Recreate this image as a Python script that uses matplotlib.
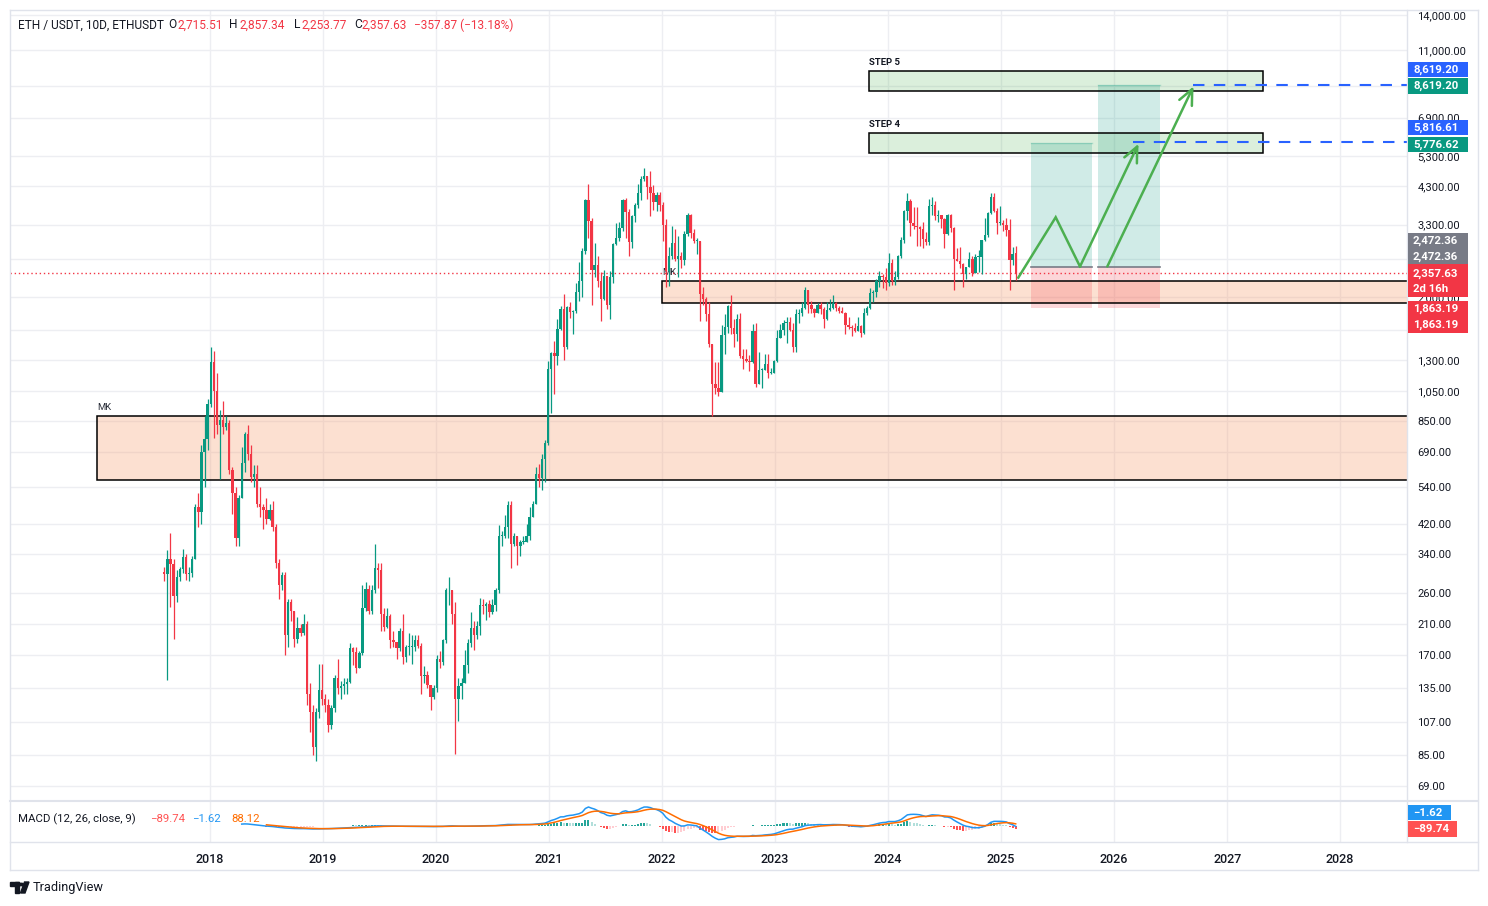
import numpy as np
import pandas as pd
import matplotlib
matplotlib.use("Agg")
import matplotlib.pyplot as plt
from matplotlib.patches import Rectangle, Polygon, Circle
from matplotlib.lines import Line2D
from matplotlib.ticker import FixedLocator, NullLocator

plt.rcParams['font.family'] = ['Roboto', 'DejaVu Sans']

# ---------------- data (10-day candles, ETH/USDT) ----------------
first_candle = "2017-08-08"
candle_days = 10
first_open = 301.0

closes = [
    297, 330, 318, 255, 290, 308, 334, 296, 298, 330,
    470, 455, 690, 755, 960, 1280, 1050, 830, 860, 820,
    840, 610, 520, 380, 500, 640, 780, 680, 580, 590,
    480, 470, 460, 435, 460, 410, 320, 275, 295, 195,
    245, 230, 190, 205, 198, 210, 130, 115, 90, 115,
    133, 125, 120, 105, 118, 145, 135, 137, 139, 141,
    178, 173, 155, 172, 235, 268, 230, 265, 310, 305,
    225, 206, 222, 188, 186, 178, 200, 168, 180, 180,
    180, 188, 181, 147, 148, 138, 127, 135, 165, 162,
    188, 265, 265, 225, 125, 137, 140, 158, 185, 205,
    195, 208, 240, 238, 242, 228, 240, 265, 385, 385,
    410, 478, 365, 385, 360, 370, 370, 385, 440, 480,
    590, 575, 655, 730, 1220, 1360, 1330, 1610, 1850, 1420,
    1870, 1810, 1820, 2080, 2240, 2750, 3900, 3380, 2420, 2500,
    2230, 1980, 2320, 1900, 2300, 2890, 3010, 3230, 3900, 3600,
    2920, 3510, 3790, 4090, 4530, 4620, 4270, 4100, 3850, 4050,
    3770, 3300, 2400, 2660, 2900, 2600, 2650, 2580, 3100, 3520,
    3110, 2950, 2950, 2050, 1970, 1780, 1450, 1100, 1070, 1040,
    1540, 1630, 1880, 1620, 1550, 1720, 1330, 1310, 1290, 1280,
    1580, 1100, 1210, 1210, 1265, 1190, 1190, 1290, 1510, 1600,
    1670, 1690, 1600, 1420, 1780, 1790, 1860, 2100, 1890, 1850,
    1800, 1890, 1850, 1720, 1830, 1860, 1920, 1860, 1825, 1800,
    1650, 1630, 1620, 1580, 1640, 1560, 1790, 1860, 2060, 2080,
    2240, 2310, 2300, 2210, 2530, 2240, 2300, 2660, 2970, 3630,
    3880, 3330, 3280, 3240, 3200, 2990, 2930, 3740, 3780, 3500,
    3520, 3430, 3100, 3530, 3230, 2610, 2570, 2510, 2340, 2460,
    2600, 2370, 2640, 2640, 2960, 3080, 3580, 3990, 3630, 3330,
    3330, 3300, 3180, 2590, 2700, 2357.63,
]
highs = [
    311, 350, 395, 330, 305, 312, 352, 340, 312, 335,
    480, 520, 720, 880, 990, 1420, 1380, 1190, 920, 975,
    880, 860, 620, 540, 510, 710, 790, 830, 720, 630,
    630, 540, 480, 500, 480, 490, 420, 330, 300, 300,
    250, 250, 230, 220, 210, 225, 215, 140, 120, 118,
    160, 160, 130, 125, 120, 148, 165, 142, 145, 145,
    185, 180, 180, 175, 275, 280, 275, 275, 365, 320,
    320, 235, 235, 225, 200, 183, 205, 225, 182, 197,
    195, 195, 195, 185, 157, 152, 135, 138, 170, 175,
    190, 270, 290, 260, 245, 145, 145, 176, 190, 228,
    215, 215, 252, 250, 245, 248, 250, 270, 415, 400,
    445, 490, 490, 395, 385, 375, 385, 420, 470, 490,
    620, 635, 680, 750, 1290, 1375, 1475, 1720, 1880, 2040,
    1880, 1940, 1830, 2200, 2550, 2800, 3950, 4370, 3450, 2900,
    2650, 2380, 2410, 2200, 2400, 2900, 3330, 3370, 3950, 3970,
    3680, 3530, 3820, 4370, 4600, 4870, 4600, 4780, 4350, 4120,
    4120, 3850, 3430, 2820, 3280, 3200, 3050, 2730, 3150, 3580,
    3550, 3200, 3000, 2950, 2150, 2000, 1930, 1450, 1280, 1280,
    1650, 1780, 1900, 2030, 1720, 1780, 1790, 1400, 1400, 1340,
    1660, 1680, 1370, 1230, 1350, 1350, 1230, 1300, 1600, 1660,
    1715, 1740, 1740, 1680, 1850, 1850, 1940, 2140, 2100, 1950,
    1860, 1920, 1930, 1870, 1930, 1970, 2030, 1930, 1880, 1870,
    1810, 1740, 1650, 1680, 1750, 1650, 1860, 1880, 2130, 2100,
    2270, 2400, 2340, 2450, 2720, 2600, 2400, 2680, 3030, 3650,
    4090, 3940, 3730, 3720, 3280, 3350, 3130, 3950, 3980, 3890,
    3660, 3520, 3460, 3560, 3560, 3240, 2800, 2820, 2530, 2470,
    2730, 2660, 2690, 2770, 2970, 3450, 3600, 4100, 4110, 3700,
    3750, 3400, 3450, 3440, 2820, 2857.34,
]
lows = [
    282, 143, 236, 190, 245, 283, 298, 285, 283, 290,
    330, 410, 420, 540, 700, 940, 760, 780, 570, 780,
    800, 590, 450, 360, 360, 500, 600, 650, 560, 540,
    470, 440, 405, 420, 430, 400, 310, 250, 265, 170,
    180, 215, 180, 185, 194, 195, 120, 100, 85, 82,
    110, 120, 115, 100, 102, 115, 130, 125, 130, 130,
    140, 158, 150, 155, 170, 230, 225, 225, 260, 270,
    200, 200, 205, 178, 180, 165, 175, 160, 162, 170,
    160, 175, 178, 130, 140, 135, 116, 125, 132, 155,
    158, 185, 240, 210, 86, 108, 125, 140, 150, 180,
    176, 190, 195, 225, 216, 220, 225, 230, 260, 360,
    380, 380, 310, 360, 315, 335, 365, 370, 375, 440,
    480, 540, 530, 560, 720, 900, 1030, 1250, 1600, 1300,
    1400, 1730, 1550, 1790, 1950, 2000, 2700, 3000, 1900, 2300,
    2150, 1700, 1960, 1850, 1720, 2200, 2870, 2950, 3150, 3000,
    2650, 2800, 3350, 3700, 3900, 4450, 3950, 3500, 3650, 3630,
    3620, 2950, 2150, 2160, 2600, 2570, 2300, 2450, 2500, 3050,
    3000, 2900, 2700, 1700, 1900, 1700, 1420, 880, 1030, 1010,
    1040, 1350, 1560, 1550, 1420, 1480, 1320, 1220, 1280, 1200,
    1270, 1080, 1170, 1070, 1230, 1150, 1180, 1190, 1280, 1510,
    1540, 1460, 1590, 1370, 1370, 1680, 1760, 1850, 1800, 1800,
    1740, 1790, 1780, 1620, 1710, 1820, 1850, 1820, 1800, 1790,
    1550, 1610, 1530, 1570, 1590, 1520, 1550, 1770, 1850, 1930,
    2000, 2150, 2130, 2100, 2160, 2170, 2170, 2270, 2630, 2900,
    3400, 3060, 3200, 2850, 2850, 2810, 2860, 2870, 3530, 3400,
    3360, 3230, 2810, 3080, 3140, 2110, 2560, 2440, 2150, 2270,
    2480, 2310, 2380, 2380, 2350, 2950, 3020, 3550, 3610, 3100,
    3300, 3150, 3060, 2100, 2500, 2253.77,
]
last_open = 2715.51

years = [2018, 2019, 2020, 2021, 2022, 2023, 2024, 2025, 2026, 2027, 2028]
price_ticks = [14000, 11000, 8600, 6900, 5300, 4300, 3300, 2600, 2000, 1600,
               1300, 1050, 850, 690, 540, 420, 340, 260, 210, 170, 135, 107, 85, 69]
covered_ticks = [8600, 2600, 1600]   # labels hidden behind the price tags

# zones / drawings (prices)
mk_low_zone = (568, 883)
mk_high_zone = (1923, 2239)
step4_zone = (5408, 6208)
step5_zone = (8292, 9517)
entry_price = 2472.36
stop_price = 1863.19
target1 = 5776.62
target2 = 8619.20
ray1 = 5816.61
ray2 = 8619.20
current_price = 2357.63

# ---------------- prepare ----------------
n = len(closes)
opens = [first_open] + closes[:-1]
opens[-1] = last_open
idx = np.arange(n)
O = np.array(opens, float); C = np.array(closes, float)
Hh = np.maximum(np.array(highs, float), np.maximum(O, C))
Ll = np.minimum(np.array(lows, float), np.minimum(O, C))

UP = '#089981'; DN = '#F23645'
TXT = '#131722'
W, H = 1488, 906

def fx(px): return px / W
def fy(py): return 1 - py / H
def xi(px): return (px - 164.3) / 3.096   # pixel -> candle index coordinate

fig = plt.figure(figsize=(W / 100, H / 100), dpi=100)
fig.patch.set_facecolor('white')
ax = fig.add_axes([fx(10), fy(800), 1397 / W, 790 / H])
mx = fig.add_axes([fx(10), fy(842), 1397 / W, 41 / H])

x0, x1 = xi(10), xi(1407)
for a in (ax, mx):
    a.set_xlim(x0, x1)
    for s in a.spines.values():
        s.set_visible(False)
    a.set_facecolor('white')

ax.set_yscale('log')
ax.set_ylim(62.5, 14491)

start = np.datetime64(first_candle)
year_x = [(np.datetime64(f'{y}-01-01') - start).astype(int) / candle_days for y in years]

# grid
GRID = '#EDEEF2'
for yx in year_x:
    ax.axvline(yx, color=GRID, lw=1, zorder=0)
    mx.axvline(yx, color=GRID, lw=1, zorder=0)
for t in price_ticks:
    ax.axhline(t, color=GRID, lw=1, zorder=0)

ax.yaxis.tick_right()
ax.yaxis.set_major_locator(FixedLocator(price_ticks))
ax.yaxis.set_minor_locator(NullLocator())
ax.set_yticklabels(['' if t in covered_ticks else f'{t:,.2f}' for t in price_ticks])
ax.tick_params(axis='y', length=0, pad=7.5, labelsize=8, labelcolor=TXT)
ax.set_xticks([])

# zones
def zone(xa, xb, lo, hi, fc, alpha):
    ax.add_patch(Rectangle((xa, lo), xb - xa, hi - lo, facecolor=fc, alpha=alpha,
                           edgecolor='none', zorder=1))
    ax.add_patch(Rectangle((xa, lo), xb - xa, hi - lo, facecolor='none',
                           edgecolor='black', lw=1.1, zorder=4))

def zlabel(xa, top, s, bold=False):
    ax.annotate(s, xy=(xa, top), xytext=(0, 3), textcoords='offset points',
                fontsize=6.8, fontweight='bold' if bold else 'normal',
                color='#2A2E39' if not bold else TXT, ha='left', va='bottom',
                annotation_clip=False)

zone(xi(97), xi(1420), *mk_low_zone, '#F7A072', 0.32)
zone(xi(662), xi(1420), *mk_high_zone, '#F7A072', 0.32)
zone(xi(869), xi(1263), *step4_zone, '#4CAF50', 0.2)
zone(xi(869), xi(1263), *step5_zone, '#4CAF50', 0.2)
zlabel(xi(97), mk_low_zone[1], 'MK')
zlabel(xi(662), mk_high_zone[1], 'MK')
zlabel(xi(869), step4_zone[1], 'STEP 4', True)
zlabel(xi(869), step5_zone[1], 'STEP 5', True)

# long positions
for (pa, pb, tgt) in [(xi(1031), xi(1092), target1), (xi(1098), xi(1160), target2)]:
    ax.add_patch(Rectangle((pa, entry_price), pb - pa, tgt - entry_price,
                           facecolor=UP, alpha=0.19, edgecolor='none', zorder=2))
    ax.plot([pa, pb], [tgt, tgt], color=UP, alpha=0.25, lw=1, zorder=2)
    ax.add_patch(Rectangle((pa, stop_price), pb - pa, entry_price - stop_price,
                           facecolor=DN, alpha=0.2, edgecolor='none', zorder=2))
    ax.plot([pa, pb], [entry_price, entry_price], color='#787B86', lw=1.2, zorder=3)

# current price line
ax.axhline(current_price, color=DN, lw=1, ls=(0, (1, 2)), zorder=3)

# candles
up = C >= O
for mask, col in ((up, UP), (~up, DN)):
    ax.vlines(idx[mask], Ll[mask], Hh[mask], color=col, lw=0.9, zorder=5)
    bot = np.minimum(O, C)[mask]
    hgt = np.maximum(np.abs(C - O)[mask], bot * 0.006)
    ax.bar(idx[mask], hgt, bottom=bot, width=0.75, color=col, zorder=5, linewidth=0)

# projected path
GR = '#4CAF50'
ax.plot([xi(1018.3), xi(1055.7), xi(1080)], [2290, 3472, entry_price], color=GR, lw=1.8,
        zorder=6, solid_joinstyle='miter')
for (xs, ps, xt, pt) in [(xi(1080), entry_price, xi(1138.5), 5760),
                         (xi(1107.3), entry_price, xi(1193.5), 8560)]:
    ax.annotate('', xy=(xt, pt), xytext=(xs, ps),
                arrowprops=dict(arrowstyle='->,head_length=0.55,head_width=0.25',
                                color=GR, lw=1.8, shrinkA=0, shrinkB=0, mutation_scale=20),
                zorder=6, annotation_clip=False)

# dashed rays
for (xs, p) in [(xi(1132.7), ray1), (xi(1193.3), ray2)]:
    ax.plot([xs, x1], [p, p], color='#2962FF', lw=1.5, dashes=(5.5, 4.5), zorder=6)

# ---------------- MACD ----------------
def ema(vals, length):
    vals = np.asarray(vals, float)
    out = np.full(len(vals), np.nan)
    ok = np.where(~np.isnan(vals))[0]
    s0 = ok[0]
    seed = s0 + length - 1
    out[seed] = np.mean(vals[s0:seed + 1])
    a = 2.0 / (length + 1)
    for k in range(seed + 1, len(vals)):
        out[k] = a * vals[k] + (1 - a) * out[k - 1]
    return out

macd = ema(C, 12) - ema(C, 26)
sig = ema(macd, 9)
hist = macd - sig
mmax = np.nanmax(np.concatenate([macd, sig]))
ppu = 19.0 / mmax
mx.set_ylim(-(842 - 826) / ppu, (826 - 801) / ppu)
hcol = []
for k in range(n):
    prev = hist[k - 1] if k > 0 and not np.isnan(hist[k - 1]) else 0
    h = hist[k] if not np.isnan(hist[k]) else 0
    if h >= 0:
        hcol.append('#26A69A' if h >= prev else '#B2DFDB')
    else:
        hcol.append('#FFCDD2' if h >= prev else '#FF5252')
hv = ~np.isnan(hist)
mx.bar(idx[hv], hist[hv], width=0.65, color=np.array(hcol)[hv], linewidth=0, zorder=2)
mx.plot(idx, macd, color='#2196F3', lw=1.1, zorder=3)
mx.plot(idx, sig, color='#FF6D00', lw=1.1, zorder=3)
mx.set_yticks([])
mx.set_xticks(year_x)
mx.set_xticklabels([str(y) for y in years])
mx.tick_params(axis='x', length=0, pad=8, labelsize=9, labelcolor=TXT)
for lab in mx.get_xticklabels():
    lab.set_fontweight('medium')

# ---------------- frame lines ----------------
FR = '#E0E3EB'
def fline(xa, ya, xb, yb, c=FR, lw=1.0):
    fig.add_artist(Line2D([fx(xa), fx(xb)], [fy(ya), fy(yb)], color=c, lw=lw,
                          transform=fig.transFigure, zorder=4))
fline(10, 10, 1478, 10)
fline(10, 870, 1478, 870)
fline(10, 10, 10, 870)
fline(1478, 10, 1478, 870)
fline(1407, 10, 1407, 842)
fline(10, 800.5, 1478, 800.5, lw=1.5)
fline(10, 842, 1478, 842)

# ---------------- header texts ----------------
def ftext(px, py, s, c=TXT, size=8.6, ha='left', w='normal', z=7):
    fig.text(fx(px), fy(py), s, color=c, fontsize=size, ha=ha, va='center',
             fontweight=w, zorder=z)

ftext(18, 25, 'ETH / USDT, 10D, ETHUSDT')
ftext(168, 25, 'O'); ftext(178, 25, '2,715.51', DN)
ftext(229, 25, 'H'); ftext(239, 25, '2,857.34', DN)
ftext(294, 25, 'L'); ftext(301, 25, '2,253.77', DN)
ftext(354, 25, 'C'); ftext(361, 25, '2,357.63', DN)
ftext(414, 25, '\u2212357.87 (\u221213.18%)', DN)

ftext(18, 819, 'MACD (12, 26, close, 9)', size=8.2)
ftext(150, 819, '\u221289.74', '#FF5252', size=8.2)
ftext(192, 819, '\u22121.62', '#2196F3', size=8.2)
ftext(231, 819, '88.12', '#FF6D00', size=8.2)

# ---------------- axis labels boxes ----------------
def lbox(ya, yb, col, lines, xb=1468):
    fig.add_artist(Rectangle((fx(1408), fy(yb)), (xb - 1408) / W, (yb - ya) / H,
                             transform=fig.transFigure, facecolor=col, edgecolor='none',
                             zorder=5))
    for (yy, t) in lines:
        ftext(1413, yy, t, c='white', size=8.2, w='bold', z=6)

lbox(62, 77, '#2962FF', [(69.5, '8,619.20')])
lbox(78, 94, UP, [(86, '8,619.20')])
lbox(120, 135, '#2962FF', [(127.5, '5,816.61')])
lbox(137, 152, UP, [(144.5, '5,776.62')])
lbox(233, 264, '#787B86', [(240.5, '2,472.36'), (256.5, '2,472.36')])
lbox(264, 297, DN, [(274, '2,357.63'), (289, '2d 16h')])
lbox(301, 333, DN, [(308.5, '1,863.19'), (325, '1,863.19')])
lbox(805, 820, '#2196F3', [(812.5, '\u22121.62')], xb=1451)
lbox(821, 837, '#FF5252', [(829, '\u221289.74')], xb=1457)

# ---------------- logo ----------------
LC = '#131722'
fig.add_artist(Rectangle((fx(10), fy(886)), 9 / W, 4 / H, transform=fig.transFigure,
                         color=LC, zorder=5))
fig.add_artist(Rectangle((fx(14.5), fy(893)), 4 / W, 11 / H, transform=fig.transFigure,
                         color=LC, zorder=5))
fig.add_artist(Circle((fx(21.5), fy(884.5)), 2.0 / W, transform=fig.transFigure,
                      color=LC, zorder=5))
fig.add_artist(Polygon([(fx(24.5), fy(882)), (fx(29), fy(882)), (fx(25), fy(893)),
                        (fx(20.5), fy(893))], closed=True, transform=fig.transFigure,
                       color=LC, zorder=5))
ftext(33, 888, 'TradingView', size=9.2)

fig.savefig('out.png', dpi=100, facecolor='white')
